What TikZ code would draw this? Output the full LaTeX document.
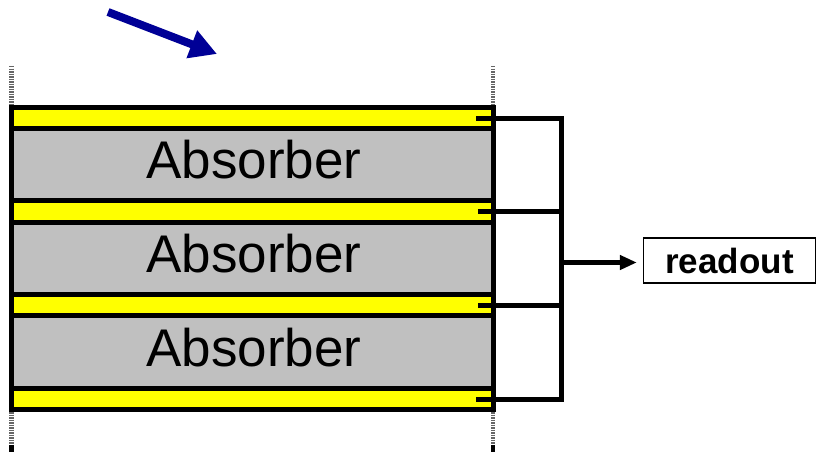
\documentclass[tikz,border=0pt]{standalone}
\usepackage{fontspec}
\setmainfont{Liberation Sans}
\usetikzlibrary{arrows.meta}
\definecolor{absgray}{RGB}{192,192,192}
\definecolor{stripyellow}{RGB}{255,255,0}
\definecolor{beamblue}{RGB}{0,0,150}
\tikzset{
  layerline/.style={draw=black, line width=5pt},
  absorber/.style={layerline, fill=absgray},
  strip/.style={layerline, fill=stripyellow},
  wire/.style={draw=black, line width=5pt},
  guide/.style={draw=black!60, line width=4.5pt, dash pattern=on 1.5pt off 1pt},
  abslabel/.style={font=\fontsize{53}{53}\selectfont, anchor=base},
  outbox/.style={draw=black, line width=1.3pt, minimum width=172pt, minimum height=45pt, inner sep=0pt, font=\bfseries\fontsize{35}{35}\selectfont}
}
\begin{document}
\begin{tikzpicture}[x=1pt,y=-1pt]
\useasboundingbox (0,0) rectangle (816,452);
% guide lines (dotted)
\draw[guide] (11.5,66) -- (11.5,105);
\draw[guide] (493,66) -- (493,105);
\draw[guide] (11.5,412) -- (11.5,445);
\draw[guide] (493,412) -- (493,445);
\draw[black, line width=4.5pt] (11.5,445) -- (11.5,452);
\draw[black, line width=4.5pt] (493,445) -- (493,452);
% absorbers
\path[absorber] (11.5,128.5) rectangle (493,200.8);
\path[absorber] (11.5,222) rectangle (493,294.5);
\path[absorber] (11.5,315.7) rectangle (493,388.5);
% strips
\path[strip] (11.5,107.5) rectangle (493,128.5);
\path[strip] (11.5,200.8) rectangle (493,222);
\path[strip] (11.5,294.5) rectangle (493,315.7);
\path[strip] (11.5,388.5) rectangle (493,409.5);
% labels
\node[abslabel] (a1) at (254,178.5) {Absorber};
\node[abslabel] (a2) at (254,272) {Absorber};
\node[abslabel] (a3) at (254,366) {Absorber};
% wire coordinates
\coordinate (t1) at (478,118);
\coordinate (t2) at (478,211.5);
\coordinate (t3) at (478,305.5);
\coordinate (t4) at (478,399);
\coordinate (b1) at (561,118);
\coordinate (b2) at (561,211.5);
\coordinate (b3) at (561,305.5);
\coordinate (b4) at (561,399);
\coordinate (bm) at (561,262.5);
\draw[wire, line cap=rect] (t1) -- (b1) -- (b4) -- (t4);
\draw[wire] (t2) -- (b2);
\draw[wire] (t3) -- (b3);
% readout
\node[outbox] (ro) at (729.5,260.5) {readout};
\draw[wire, line width=4.5pt, -{Triangle[length=17pt,width=14pt]}] (bm) -- ([xshift=-6pt]ro.west |- bm);
% beam arrow
\coordinate (s) at (108,12);
\coordinate (e) at (217,54);
\draw[beamblue, line width=8pt, -{Triangle[length=27pt,width=28pt]}] (s) -- (e);
\end{tikzpicture}
\end{document}
